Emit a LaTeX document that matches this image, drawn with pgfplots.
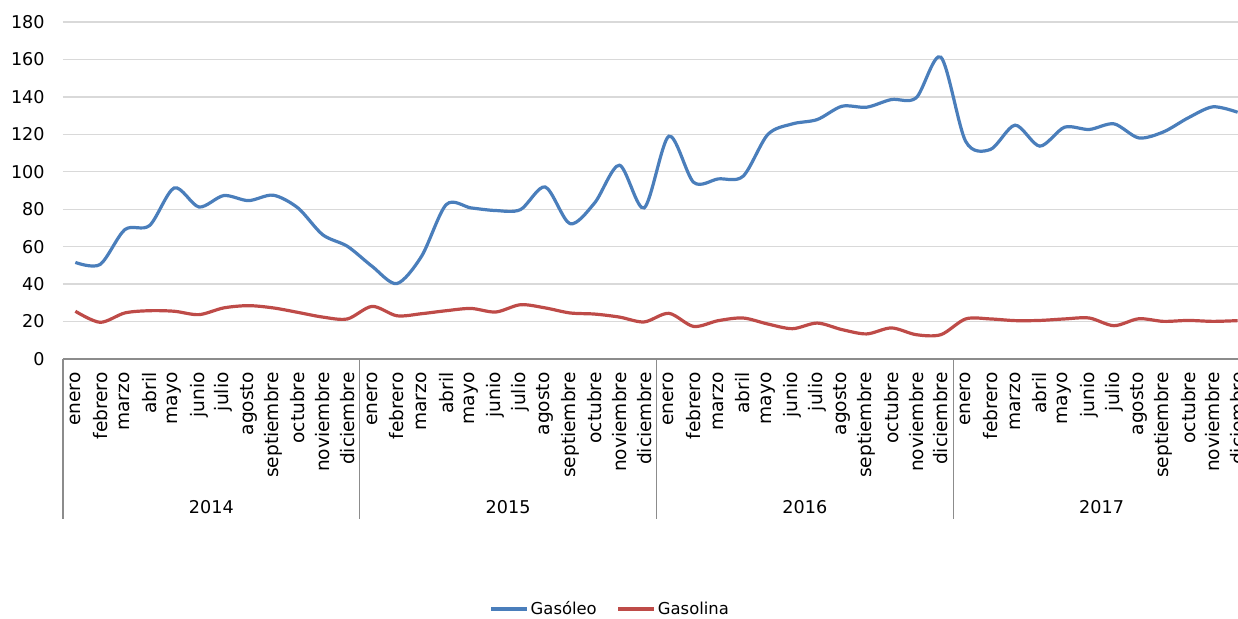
\documentclass[border=0pt]{standalone}
\usepackage{pgfplots}
\pgfplotsset{compat=1.18}
\usepackage{fontspec}
\setmainfont{DejaVu Sans}
\definecolor{gasoleo}{RGB}{74,126,187}
\definecolor{gasolina}{RGB}{190,75,72}
\definecolor{gridgray}{RGB}{217,217,217}
\definecolor{axisgray}{RGB}{140,140,140}

\begin{document}
\begin{tikzpicture}
\useasboundingbox (0,0) rectangle (619pt,309pt);
\clip (0,0) rectangle (619pt,309pt);
\begin{axis}[
  at={(31.5pt,129.5pt)}, anchor=south west,
  scale only axis, width=593.5pt, height=168.5pt,
  xmin=-0.5, xmax=47.5, ymin=0, ymax=180,
  ytick={0,20,...,180},
  xtick={0,...,47},
  xticklabels={enero,febrero,marzo,abril,mayo,junio,julio,agosto,septiembre,octubre,noviembre,diciembre,
               enero,febrero,marzo,abril,mayo,junio,julio,agosto,septiembre,octubre,noviembre,diciembre,
               enero,febrero,marzo,abril,mayo,junio,julio,agosto,septiembre,octubre,noviembre,diciembre,
               enero,febrero,marzo,abril,mayo,junio,julio,agosto,septiembre,octubre,noviembre,diciembre},
  axis line style={draw=none},
  tick style={draw=none},
  ymajorgrids, grid style={gridgray, line width=0.7pt},
  /pgf/number format/assume math mode=true,
  yticklabel style={font=\fontsize{8.8}{10}\selectfont, anchor=east, inner sep=0pt, xshift=-9pt},
  xticklabel style={font=\fontsize{9.3}{11}\selectfont, rotate=90, anchor=east, inner sep=0pt},
  xticklabel shift=6.5pt,
  clip=false,
  legend style={draw=none, at={(0.461,-0.742)}, anchor=center, legend columns=2,
    font=\fontsize{8.2}{10}\selectfont, inner sep=0pt,
    nodes={text height=6.5pt, text depth=1.5pt, inner sep=1pt},
    /tikz/every even column/.append style={column sep=9pt}},
  legend image code/.code={\draw[#1] (0pt,0pt) -- (18pt,0pt);},
]
\addplot[gasoleo, line width=1.6pt, smooth] coordinates {
  (0,51.6) (1,50.5) (2,69.1) (3,71.3) (4,91.4) (5,81.2) (6,87.3) (7,84.6) (8,87.5) (9,80.7) (10,66.4) (11,60.2)
  (12,49.5) (13,40.3) (14,54.9) (15,82.5) (16,80.7) (17,79.3) (18,79.8) (19,91.9) (20,72.3) (21,83.4) (22,103.5) (23,80.7)
  (24,119.0) (25,94.4) (26,96.2) (27,97.6) (28,119.9) (29,125.6) (30,127.9) (31,135.0) (32,134.5) (33,138.6) (34,139.5) (35,161.2)
  (36,116.3) (37,111.9) (38,124.9) (39,113.7) (40,123.8) (41,122.6) (42,125.6) (43,118.1) (44,121.3) (45,128.8) (46,134.7) (47,131.8)
};
\addlegendentry{Gasóleo}
\addplot[gasolina, line width=1.6pt, smooth] coordinates {
  (0,25.5) (1,19.6) (2,24.6) (3,25.8) (4,25.5) (5,23.7) (6,27.3) (7,28.5) (8,27.3) (9,24.9) (10,22.4) (11,21.4)
  (12,28.1) (13,23.1) (14,24.2) (15,25.8) (16,27.0) (17,25.1) (18,29.0) (19,27.3) (20,24.6) (21,24.0) (22,22.4) (23,19.8)
  (24,24.4) (25,17.4) (26,20.5) (27,21.9) (28,18.7) (29,16.2) (30,19.2) (31,15.7) (32,13.4) (33,16.6) (34,13.0) (35,13.0)
  (36,21.4) (37,21.4) (38,20.5) (39,20.6) (40,21.4) (41,21.9) (42,17.8) (43,21.5) (44,20.1) (45,20.6) (46,20.1) (47,20.5)
};
\addlegendentry{Gasolina}
% eje inferior y separadores de año
\draw[axisgray, line width=0.7pt] (rel axis cs:0,0) -- (rel axis cs:1,0);
\pgfplotsinvokeforeach{-0.5,11.5,23.5,35.5,47.5}{
  \draw[axisgray, line width=0.7pt] (axis cs:#1,0) -- ++(0pt,-80pt);
}
\node[font=\fontsize{8.8}{10}\selectfont, inner sep=0pt] at ([yshift=-74pt]axis cs:5.5,0) {2014};
\node[font=\fontsize{8.8}{10}\selectfont, inner sep=0pt] at ([yshift=-74pt]axis cs:17.5,0) {2015};
\node[font=\fontsize{8.8}{10}\selectfont, inner sep=0pt] at ([yshift=-74pt]axis cs:29.5,0) {2016};
\node[font=\fontsize{8.8}{10}\selectfont, inner sep=0pt] at ([yshift=-74pt]axis cs:41.5,0) {2017};
\end{axis}
\end{tikzpicture}
\end{document}
